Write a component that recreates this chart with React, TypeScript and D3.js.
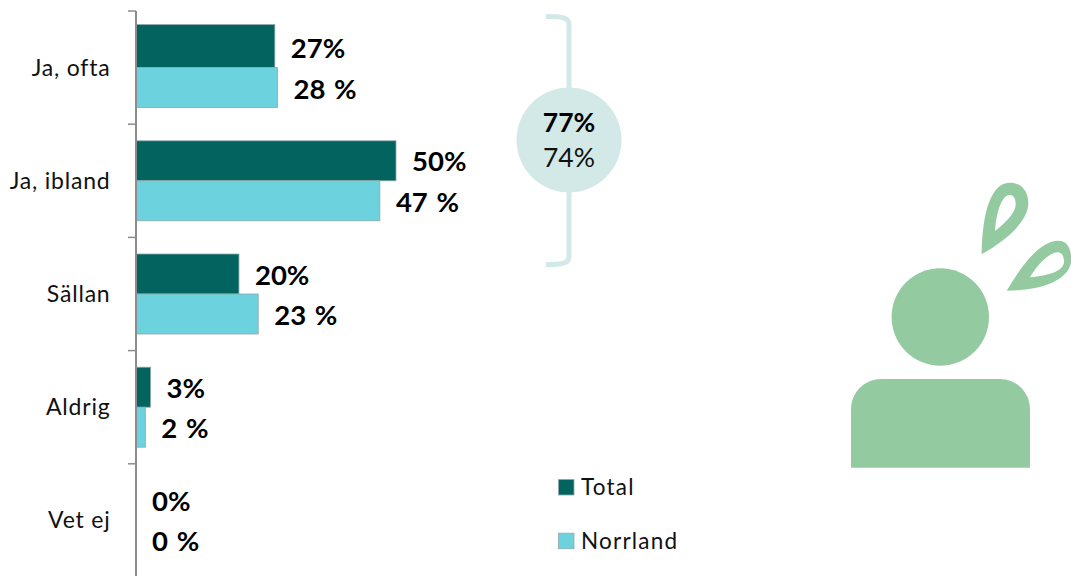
import React from "react";
import * as d3 from "d3";

const categories = ["Ja, ofta", "Ja, ibland", "Sällan", "Aldrig", "Vet ej"];
const totalValues = [26.7, 50, 19.8, 2.8, 0];
const norrlandValues = [27.2, 46.9, 23.5, 1.8, 0];
const totalLabels = ["27%", "50%", "20%", "3%", "0%"];
const norrlandLabels = ["28 %", "47 %", "23 %", "2 %", "0 %"];
const seriesNames = ["Total", "Norrland"];
const bracketLabels = ["77%", "74%"];

const DARK = "#02635f";
const LIGHT = "#6bd2de";
const PALE = "#d2e9e7";
const GREEN = "#94caa0";
const FONT = "Lato, Carlito, 'Noto Sans', sans-serif";

export default function App() {
  const x = d3.scaleLinear().domain([0, 50]).range([136, 396]);
  const y = d3.scaleBand<string>().domain(categories).range([11, 577]);
  const step = y.step();
  const barH = 40;
  const series = [
    { name: seriesNames[0], values: totalValues, labels: totalLabels, color: DARK, dy: -barH, base: -9.5 },
    { name: seriesNames[1], values: norrlandValues, labels: norrlandLabels, color: LIGHT, dy: 0, base: 31 },
  ];
  const ticks = d3.range(categories.length).map((i) => 11 + i * step);
  const bracket = d3.path();
  bracket.moveTo(546, 16.5);
  bracket.bezierCurveTo(560, 16.5, 569, 17, 569, 24);
  bracket.lineTo(569, 257);
  bracket.bezierCurveTo(569, 264, 560, 264.5, 546, 264.5);

  return (
    <svg width={1071} height={576} style={{ position: "absolute", left: 0, top: 0, background: "#fff" }} fontFamily={FONT}>
      {series.map((s) =>
        categories.map((c, i) => {
          const cy = (y(c) as number) + step / 2;
          const extra = i === 0 && s.dy < 0 ? 3 : 0;
          return s.values[i] > 0 ? (
            <rect key={s.name + c} x={x(0)} y={cy + s.dy - extra} width={x(s.values[i]) - x(0)} height={barH + extra}
              fill={s.color} stroke="#8fa9ab" strokeWidth={0.8} />
          ) : null;
        })
      )}
      <line x1={136} x2={136} y1={11} y2={576} stroke="#8c8c8c" strokeWidth={2} />
      {ticks.map((t) => (
        <line key={t} x1={128} x2={136} y1={t} y2={t} stroke="#8c8c8c" strokeWidth={1.5} />
      ))}
      {categories.map((c) => (
        <text key={c} x={110.5} y={(y(c) as number) + step / 2 + 8} textAnchor="end" fontSize={23} fill="#111" letterSpacing={0.8}>{c}</text>
      ))}
      {series.map((s) =>
        categories.map((c, i) => (
          <text key={s.name + c} x={x(s.values[i]) + 16} y={(y(c) as number) + step / 2 + s.base}
            fontSize={27.5} fontWeight={700} fill="#000" wordSpacing={2}>{s.labels[i]}</text>
        ))
      )}
      <path d={bracket.toString()} fill="none" stroke={PALE} strokeWidth={5} />
      <circle cx={569} cy={140} r={52.5} fill={PALE} />
      <text x={569} y={132} textAnchor="middle" fontSize={26.5} fontWeight={700} fill="#000">{bracketLabels[0]}</text>
      <text x={569} y={167} textAnchor="middle" fontSize={26.5} fill="#111">{bracketLabels[1]}</text>
      {series.map((s, i) => (
        <g key={s.name}>
          <rect x={558.5} y={479.5 + i * 53.7} width={15.5} height={15.5} fill={s.color} stroke="#8fa9ab" strokeWidth={0.8} />
          <text x={581} y={495 + i * 54} fontSize={22.5} fill="#111" letterSpacing={1.2}>{s.name}</text>
        </g>
      ))}
      <g fill={GREEN}>
        <circle cx={940.3} cy={317} r={48.7} />
        <path d="M851 467.7V409a30 30 0 0 1 30-30H1000a30 30 0 0 1 30 30V467.7Z" />
        <path fillRule="evenodd" d="M981.7 254.3C982 225 987 182.7 1010 182.7C1022 182.7 1028.3 192 1028.3 203C1028.3 222 1005 241 981.7 254.3ZM995 231C1005 223 1015.7 213 1015.7 204C1015.7 198 1013 195 1010 195C1001 195 996 214 995 231Z" />
        <path fillRule="evenodd" d="M1006.7 290.7C1022 265 1040 240.7 1058.3 240.7C1068 240.7 1072 250 1071 262C1068 283 1035 290.7 1006.7 290.7ZM1030 277.3C1045 276 1064 272 1064 261.7C1064 255 1061 252.3 1058 252.3C1049 252.3 1037 265 1030 277.3Z" />
      </g>
    </svg>
  );
}
